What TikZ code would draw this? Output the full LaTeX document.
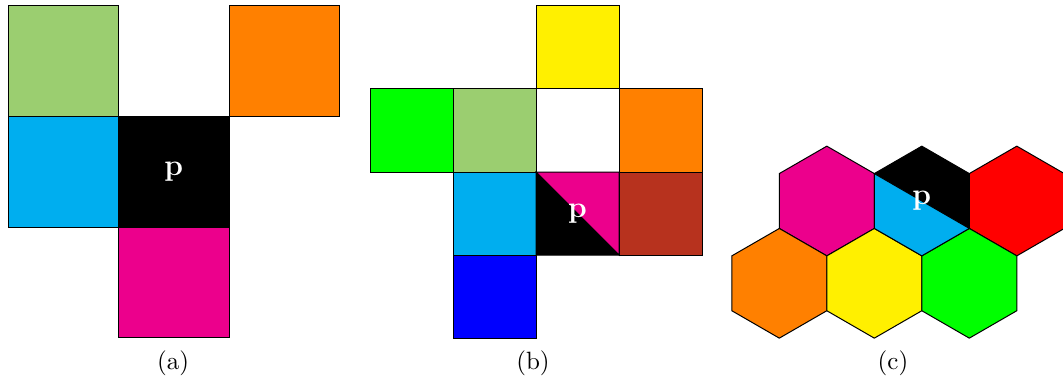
\documentclass[tikz,border=0pt]{standalone}
\definecolor{lgreenc}{RGB}{155,206,112}
\definecolor{cyanc}{RGB}{0,174,239}
\definecolor{magc}{RGB}{236,0,140}
\definecolor{yellowc}{RGB}{255,240,0}
\definecolor{brownc}{RGB}{183,50,30}
\definecolor{orangec}{RGB}{255,128,0}
\definecolor{greenc}{RGB}{0,255,0}
\definecolor{bluec}{RGB}{0,0,255}
\definecolor{redc}{RGB}{255,0,0}
\newcommand{\hexcell}[3]{%
  \filldraw[cell,fill=#3,shift={(#1,#2)}] (30:54.85) -- (90:54.85) -- (150:54.85) -- (210:54.85) -- (270:54.85) -- (330:54.85) -- cycle;}
\begin{document}
\begin{tikzpicture}[x=0.4pt,y=-0.4pt,
  cell/.style={draw=black,line width=0.4pt,line join=miter},
  ptext/.style={text=white,font=\large\bfseries,inner sep=0pt},
  captext/.style={font=\normalsize,inner sep=0pt}]
\useasboundingbox (0,0) rectangle (1063,386);
% ---------- (a) ----------
\filldraw[cell,fill=lgreenc] (8,6) rectangle (118.5,116.5);
\filldraw[cell,fill=orangec] (229,6) rectangle (339.5,116.5);
\filldraw[cell,fill=cyanc] (8,116.5) rectangle (118.5,227);
\filldraw[cell,fill=black] (118.5,116.5) rectangle (229,227);
\filldraw[cell,fill=magc] (118.5,227) rectangle (229,337.5);
\node[ptext] (pa) at (173.75,172) {p};
\node[captext] (capa) at (173,363) {(a)};
% ---------- (b) ----------
\filldraw[cell,fill=yellowc] (536,6) rectangle (619,89);
\filldraw[cell,fill=greenc] (370,89) rectangle (453,172);
\filldraw[cell,fill=lgreenc] (453,89) rectangle (536,172);
\filldraw[cell,fill=white] (536,89) rectangle (619,172);
\filldraw[cell,fill=orangec] (619,89) rectangle (702,172);
\filldraw[cell,fill=cyanc] (453,172) rectangle (536,255);
\filldraw[cell,fill=magc] (536,172) -- (619,172) -- (619,255) -- cycle;
\filldraw[cell,fill=black] (536,172) -- (536,255) -- (619,255) -- cycle;
\filldraw[cell,fill=brownc] (619,172) rectangle (702,255);
\filldraw[cell,fill=bluec] (453,255) rectangle (536,338);
\node[ptext] (pb) at (577.5,213.5) {p};
\node[captext] (capb) at (533,363) {(b)};
% ---------- (c) ----------
\hexcell{826.8}{201}{magc}
\hexcell{1016.8}{201}{redc}
\hexcell{779.3}{283.3}{orangec}
\hexcell{874.3}{283.3}{yellowc}
\hexcell{969.3}{283.3}{greenc}
\begin{scope}[shift={(921.8,201)}]
\filldraw[cell,fill=black] (-47.5,-27.42) -- (0,-54.85) -- (47.5,-27.42) -- (47.5,27.42) -- cycle;
\filldraw[cell,fill=cyanc] (-47.5,-27.42) -- (-47.5,27.42) -- (0,54.85) -- (47.5,27.42) -- cycle;
\end{scope}
\node[ptext] (pc) at (921.8,201) {p};
\node[captext] (capc) at (893,363) {(c)};
\end{tikzpicture}
\end{document}
